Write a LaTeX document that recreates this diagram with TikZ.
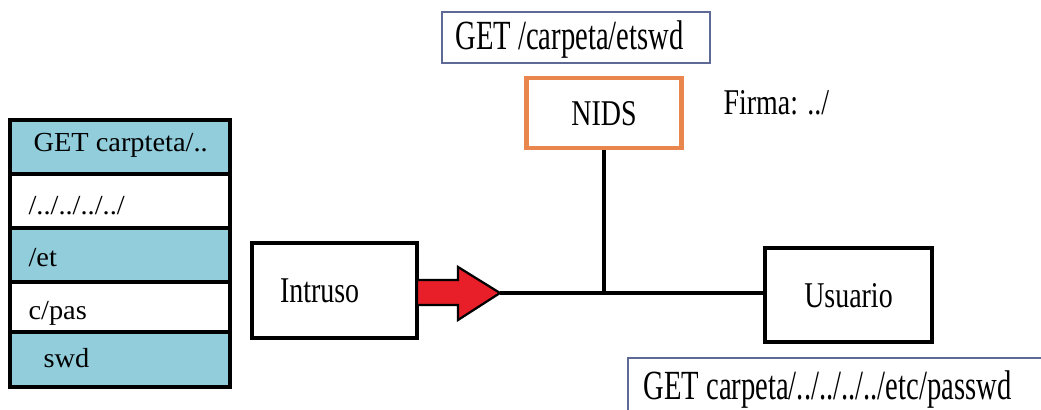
\documentclass[tikz,border=0pt]{standalone}
\usepackage{fontspec}
\setmainfont{Liberation Serif}
\newfontfamily\letragrande{Liberation Serif}[FakeStretch=0.69]
\newfontfamily\letramedia{Liberation Serif}[FakeStretch=0.77]
\newfontfamily\letrapila{Liberation Serif}[FakeStretch=1.03]
\definecolor{celeste}{RGB}{146,205,220}
\definecolor{naranja}{RGB}{232,134,78}
\definecolor{grisazul}{RGB}{95,105,150}
\definecolor{rojo}{RGB}{232,30,40}
\tikzstyle{texto}=[inner sep=0pt,font=\letramedia\fontsize{25.8}{30}\selectfont]
\tikzstyle{trozo}=[inner sep=0pt,anchor=base west,font=\letrapila\fontsize{19.6}{23}\selectfont]
\tikzstyle{grande}=[inner sep=0pt,anchor=base west,font=\letragrande\fontsize{29.5}{34}\selectfont]
\tikzstyle{caja}=[draw,line width=2.6pt,text depth=0pt,font=\letramedia\fontsize{25.8}{30}\selectfont]
\tikzstyle{marco}=[draw=grisazul,line width=1pt]
\tikzstyle{linea}=[line width=2.6pt]
\tikzstyle{flecha}=[fill=rojo,draw=black,line width=1.6pt,line join=miter]

\begin{document}
\begin{tikzpicture}[thick]
    \path [use as bounding box] (0,0) rectangle (26.025,10.25);
    \clip (0,0) rectangle (26.025,10.25);

    \filldraw [fill=celeste,line width=2.6pt] (0.25,5.9) rectangle (5.75,7.25);
    \filldraw [fill=white,line width=2.6pt] (0.25,4.55) rectangle (5.75,5.9);
    \filldraw [fill=celeste,line width=2.6pt] (0.25,3.2) rectangle (5.75,4.55);
    \filldraw [fill=white,line width=2.6pt] (0.25,1.95) rectangle (5.75,3.2);
    \filldraw [fill=celeste,line width=2.6pt] (0.25,0.575) rectangle (5.75,1.95);
    \node [trozo] (t1) at (0.825,6.45) {GET carpteta/..};
    \node [trozo] (t2) at (0.7,4.875) {/../../../../};
    \node [trozo] (t3) at (0.7,3.575) {/et};
    \node [trozo] (t4) at (0.7,2.25) {c/pas};
    \node [trozo] (t5) at (1.075,1.05) {swd};

    \node [caja,minimum width=4.125cm,minimum height=2.375cm,text width=2.725cm,inner xsep=0.7cm,align=left] (intruso) at (8.3625,2.9875) {Intruso};
    \node [caja,minimum width=4.175cm,minimum height=2.35cm] (usuario) at (21.2125,2.875) {Usuario};
    \node [caja,draw=naranja,line width=3.5pt,minimum width=3.875cm,minimum height=1.75cm] (nids) at (15.1,7.425) {NIDS};
    \node [texto,anchor=base west] (firma) at (18.075,7.375) {Firma: ../};

    \draw [marco] (11.05,8.675) rectangle (17.75,9.95);
    \node [grande] (arriba) at (11.375,9.0) {GET /carpeta/etswd};
    \draw [marco] (15.7,1.3) rectangle (26.5,-0.5);
    \node [grande] (abajo) at (16.075,0.25) {GET carpeta/../../../../etc/passwd};

    \coordinate (punta) at (12.5,2.925);
    \filldraw [flecha] (10.425,3.25) -- (11.45,3.25) -- (11.45,3.575) -- (punta) -- (11.45,2.25) -- (11.45,2.625) -- (10.425,2.625) -- cycle;
    \draw [linea] (punta) -- (punta -| usuario.west);
    \draw [linea] (nids.south) -- (nids.south |- punta);
\end{tikzpicture}
\end{document}
